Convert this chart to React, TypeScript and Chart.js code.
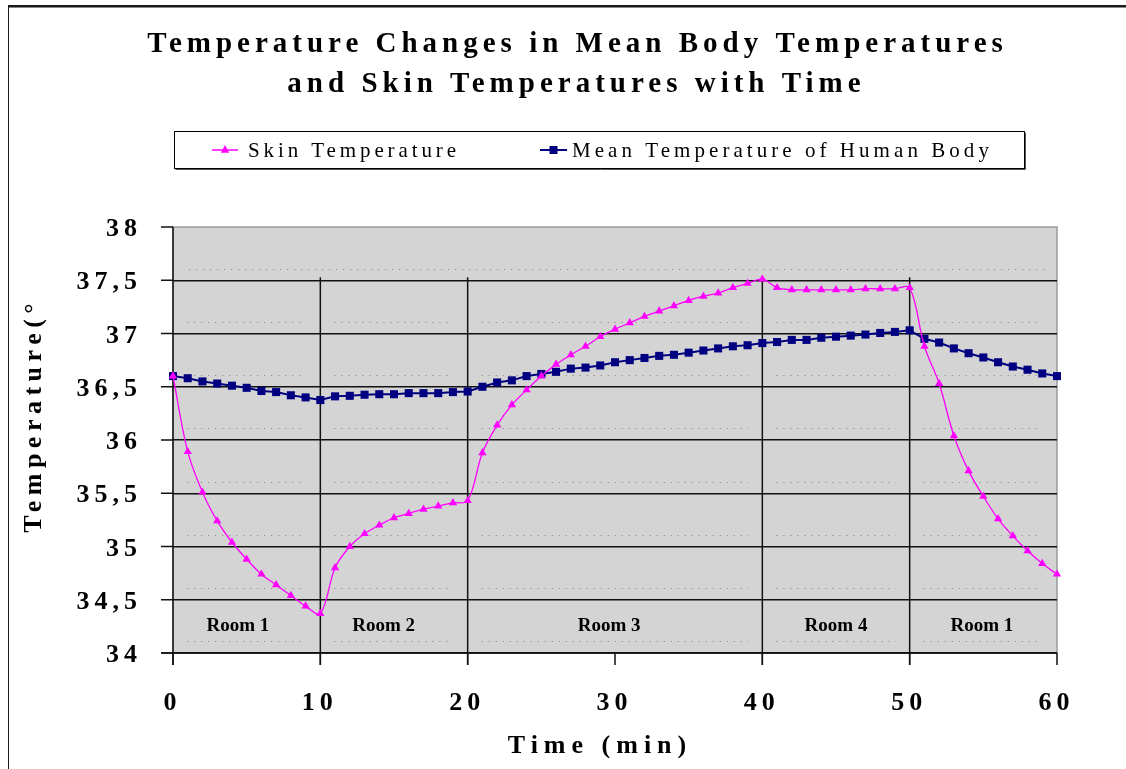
import React, { useEffect, useRef } from "react";
import { Chart, registerables } from "chart.js";

Chart.register(...registerables);

// ---------- data ----------
const titleLines = ["Temperature Changes in Mean Body Temperatures", "and Skin Temperatures with Time"];
const seriesNames = ["Skin Temperature", "Mean Temperature of Human Body"];
const xAxisTitle = "Time (min)";
const yAxisTitle = "Temperature(°";

const minutes = [
  0, 1, 2, 3, 4, 5, 6, 7, 8, 9, 10, 11, 12, 13, 14, 15, 16, 17, 18, 19, 20,
  21, 22, 23, 24, 25, 26, 27, 28, 29, 30, 31, 32, 33, 34, 35, 36, 37, 38, 39, 40,
  41, 42, 43, 44, 45, 46, 47, 48, 49, 50, 51, 52, 53, 54, 55, 56, 57, 58, 59, 60,
];

const skinTemp = [
  36.6, 35.89, 35.51, 35.24, 35.04, 34.88, 34.74, 34.64, 34.54, 34.44, 34.37,
  34.8, 35.0, 35.12, 35.2, 35.27, 35.31, 35.35, 35.38, 35.41, 35.43,
  35.88, 36.14, 36.33, 36.47, 36.6, 36.71, 36.8, 36.88, 36.97, 37.04,
  37.1, 37.16, 37.21, 37.26, 37.31, 37.35, 37.38, 37.43, 37.47, 37.51,
  37.43, 37.41, 37.41, 37.41, 37.41, 37.41, 37.42, 37.42, 37.42, 37.43,
  36.88, 36.53, 36.04, 35.71, 35.47, 35.26, 35.1, 34.96, 34.84, 34.74,
];

const meanTemp = [
  36.6, 36.58, 36.55, 36.53, 36.51, 36.49, 36.46, 36.45, 36.42, 36.4, 36.375,
  36.41, 36.415, 36.425, 36.43, 36.43, 36.44, 36.44, 36.44, 36.45, 36.455,
  36.5, 36.54, 36.56, 36.6, 36.62, 36.64, 36.67, 36.68, 36.7, 36.73,
  36.75, 36.77, 36.79, 36.8, 36.82, 36.84, 36.86, 36.88, 36.89, 36.91,
  36.92, 36.94, 36.94, 36.96, 36.97, 36.98, 36.99, 37.005, 37.015, 37.03,
  36.95, 36.915, 36.86, 36.815, 36.775, 36.73, 36.69, 36.66, 36.625, 36.6,
];

const xTickValues = [0, 10, 20, 30, 40, 50, 60];
const xTickLabels = ["0", "10", "20", "30", "40", "50", "60"];
const yTickValues = [38, 37.5, 37, 36.5, 36, 35.5, 35, 34.5, 34];
const yTickLabels = ["38", "37,5", "37", "36,5", "36", "35,5", "35", "34,5", "34"];

const roomBounds = [0, 10, 20, 40, 50, 60];
const roomLabels = ["Room 1", "Room 2", "Room 3", "Room 4", "Room 1"];
const roomLabelMinutes = [4.4, 14.3, 29.6, 45, 54.9];
const roomDividerTop = 37.5;

// ---------- styling ----------
const FONT = "'Liberation Serif', 'Times New Roman', Times, serif";
const MAGENTA = "#ff00ff";
const NAVY = "#000080";
const PLOT_BG = "#d4d4d4";

function spacedText(
  ctx: CanvasRenderingContext2D,
  text: string,
  x: number,
  y: number,
  align: "left" | "center" | "right",
  ls: number
) {
  ctx.save();
  const c: any = ctx;
  const chars = Array.from(text);
  if ("letterSpacing" in c) c.letterSpacing = "0px";
  const base = ctx.measureText(text).width;
  const w = base + ls * (chars.length - 1);
  const startX = align === "left" ? x : align === "center" ? x - w / 2 : x - w;
  ctx.textAlign = "left";
  if ("letterSpacing" in c) {
    c.letterSpacing = ls + "px";
    ctx.fillText(text, startX, y);
  } else {
    let cx = startX;
    for (const ch of chars) {
      ctx.fillText(ch, cx, y);
      cx += ctx.measureText(ch).width + ls;
    }
  }
  ctx.restore();
}

const decor = {
  id: "decor",
  beforeDraw(chart: any) {
    const { ctx, chartArea: a, scales } = chart;
    const x = scales.x;
    const y = scales.y;
    ctx.save();
    ctx.fillStyle = "#ffffff";
    ctx.fillRect(0, 0, chart.width, chart.height);
    // outer frame (top and left)
    ctx.fillStyle = "#1a1a1a";
    ctx.fillRect(8, 5, chart.width - 8, 2);
    ctx.fillStyle = "#888";
    ctx.fillRect(8, 7, chart.width - 8, 1);
    ctx.fillStyle = "#1a1a1a";
    ctx.fillRect(8, 5, 1, chart.height - 5);
    // plot background
    ctx.fillStyle = PLOT_BG;
    ctx.fillRect(a.left, a.top, a.right - a.left, a.bottom - a.top);
    // faint dotted traces
    ctx.strokeStyle = "#8c8c8c";
    ctx.lineWidth = 1;
    ctx.setLineDash([1.2, 5.8]);
    const bands = yTickValues.filter((v) => v < 38);
    for (const v of bands) {
      const py = Math.round(y.getPixelForValue(v + 0.11)) + 0.5;
      if (v === roomDividerTop) {
        ctx.beginPath();
        ctx.moveTo(x.getPixelForValue(roomBounds[0]) + 16, py);
        ctx.lineTo(x.getPixelForValue(roomBounds[roomBounds.length - 1]) - 12, py);
        ctx.stroke();
        continue;
      }
      for (let i = 0; i < roomBounds.length - 1; i++) {
        ctx.beginPath();
        ctx.moveTo(x.getPixelForValue(roomBounds[i]) + 14, py);
        ctx.lineTo(x.getPixelForValue(roomBounds[i + 1]) - 14, py);
        ctx.stroke();
      }
    }
    ctx.setLineDash([]);
    // gray plot border
    ctx.strokeStyle = "#9a9a9a";
    ctx.lineWidth = 1.5;
    ctx.strokeRect(a.left, a.top, a.right - a.left, a.bottom - a.top);
    ctx.restore();
  },
  beforeDatasetsDraw(chart: any) {
    const { ctx, chartArea: a, scales } = chart;
    const x = scales.x;
    const y = scales.y;
    ctx.save();
    ctx.strokeStyle = "#111";
    ctx.lineWidth = 1.5;
    // left axis
    ctx.beginPath();
    ctx.moveTo(a.left, a.top);
    ctx.lineTo(a.left, a.bottom + 12);
    ctx.stroke();
    // y tick marks
    for (const v of yTickValues) {
      const py = y.getPixelForValue(v);
      ctx.beginPath();
      ctx.moveTo(a.left - 12, py);
      ctx.lineTo(a.left, py);
      ctx.stroke();
    }
    // x tick marks
    for (const v of xTickValues) {
      const px = x.getPixelForValue(v);
      ctx.beginPath();
      ctx.moveTo(px, a.bottom);
      ctx.lineTo(px, a.bottom + 12);
      ctx.stroke();
    }
    // room dividers
    const topPx = y.getPixelForValue(roomDividerTop) - 3;
    for (const b of roomBounds.slice(1, -1)) {
      const px = x.getPixelForValue(b);
      ctx.beginPath();
      ctx.moveTo(px, topPx);
      ctx.lineTo(px, a.bottom + 12);
      ctx.stroke();
    }
    // bottom axis
    ctx.beginPath();
    ctx.moveTo(a.left - 12, a.bottom);
    ctx.lineTo(a.right, a.bottom);
    ctx.stroke();
    ctx.restore();
  },
  afterDraw(chart: any) {
    const { ctx, scales } = chart;
    const x = scales.x;
    const y = scales.y;
    ctx.save();
    ctx.fillStyle = "#000";
    ctx.textBaseline = "alphabetic";

    // title
    ctx.font = `bold 29px ${FONT}`;
    spacedText(ctx, titleLines[0], 575, 52, "center", 5);
    spacedText(ctx, titleLines[1], 574, 92, "center", 5);

    // legend box
    const lx = 174.5, ly = 131.5, lw = 850, lh = 37;
    ctx.fillStyle = "#fff";
    ctx.fillRect(lx, ly, lw, lh);
    ctx.strokeStyle = "#000";
    ctx.lineWidth = 1;
    ctx.strokeRect(lx, ly, lw, lh);
    ctx.strokeStyle = "#555";
    ctx.beginPath();
    ctx.moveTo(lx + 1, ly + lh + 1);
    ctx.lineTo(lx + lw + 1, ly + lh + 1);
    ctx.lineTo(lx + lw + 1, ly + 1);
    ctx.stroke();
    const cy = 150;
    // skin marker
    ctx.strokeStyle = MAGENTA;
    ctx.lineWidth = 1.5;
    ctx.beginPath();
    ctx.moveTo(212, cy);
    ctx.lineTo(238, cy);
    ctx.stroke();
    ctx.fillStyle = MAGENTA;
    ctx.beginPath();
    ctx.moveTo(225, cy - 5);
    ctx.lineTo(229.2, cy + 2.8);
    ctx.lineTo(220.8, cy + 2.8);
    ctx.closePath();
    ctx.fill();
    // mean marker
    ctx.strokeStyle = NAVY;
    ctx.lineWidth = 2;
    ctx.beginPath();
    ctx.moveTo(540, cy);
    ctx.lineTo(567, cy);
    ctx.stroke();
    ctx.fillStyle = NAVY;
    ctx.fillRect(549.5, cy - 4, 8, 8);
    ctx.fillStyle = "#000";
    ctx.font = `21px ${FONT}`;
    spacedText(ctx, seriesNames[0], 248, 157, "left", 3.9);
    spacedText(ctx, seriesNames[1], 572, 157, "left", 4.05);

    // y tick labels
    ctx.font = `bold 26px ${FONT}`;
    yTickValues.forEach((v, i) => {
      spacedText(ctx, yTickLabels[i], 137, y.getPixelForValue(v) + 9, "right", 5);
    });
    // x tick labels
    xTickValues.forEach((v, i) => {
      spacedText(ctx, xTickLabels[i], x.getPixelForValue(v) - 3, 710, "center", 5);
    });

    // axis titles
    ctx.font = `bold 26px ${FONT}`;
    spacedText(ctx, xAxisTitle, 597, 753, "center", 6);
    ctx.save();
    ctx.translate(41, 418);
    ctx.rotate(-Math.PI / 2);
    ctx.font = `bold 26px ${FONT}`;
    spacedText(ctx, yAxisTitle, 0, 0, "center", 5.5);
    ctx.restore();

    // room labels
    ctx.font = `bold 19px ${FONT}`;
    roomLabels.forEach((t, i) => {
      spacedText(ctx, t, x.getPixelForValue(roomLabelMinutes[i]), 631, "center", 0);
    });
    ctx.restore();
  },
};

export default function App() {
  const ref = useRef<HTMLCanvasElement | null>(null);
  useEffect(() => {
    if (!ref.current) return;
    const chart = new Chart(ref.current, {
      type: "line",
      data: {
        datasets: [
          {
            label: seriesNames[0],
            data: minutes.map((m, i) => ({ x: m, y: skinTemp[i] })),
            borderColor: MAGENTA,
            backgroundColor: MAGENTA,
            borderWidth: 1.3,
            tension: 0.35,
            pointStyle: "triangle",
            pointRadius: 4.8,
            pointBorderWidth: 0,
            pointBackgroundColor: MAGENTA,
            pointBorderColor: MAGENTA,
            clip: false,
          } as any,
          {
            label: seriesNames[1],
            data: minutes.map((m, i) => ({ x: m, y: meanTemp[i] })),
            borderColor: NAVY,
            backgroundColor: NAVY,
            borderWidth: 2,
            tension: 0,
            pointStyle: "rect",
            pointRadius: 5.7,
            pointBorderWidth: 0,
            pointBackgroundColor: NAVY,
            pointBorderColor: NAVY,
            clip: false,
          } as any,
        ],
      },
      options: {
        animation: false,
        responsive: false,
        devicePixelRatio: 1,
        layout: { padding: { left: 173, right: 69, top: 227, bottom: 116 } },
        plugins: {
          legend: { display: false },
          title: { display: false },
          tooltip: { enabled: false },
        },
        scales: {
          x: {
            type: "linear",
            min: 0,
            max: 60,
            ticks: { display: false, stepSize: 10 },
            grid: { display: false, drawTicks: false },
            border: { display: false },
            afterFit: (s: any) => {
              s.height = 0;
            },
          },
          y: {
            type: "linear",
            min: 34,
            max: 38,
            ticks: { display: false, stepSize: 0.5 },
            grid: {
              drawTicks: false,
              color: (c: any) => (c.tick && c.tick.value >= 38 ? "rgba(0,0,0,0)" : "#111"),
              lineWidth: 1.5,
            },
            border: { display: false },
            afterFit: (s: any) => {
              s.width = 0;
            },
          },
        },
      } as any,
      plugins: [decor],
    });
    return () => chart.destroy();
  }, []);
  return (
    <div style={{ position: "fixed", left: 0, top: 0, width: 1126, height: 769 }}>
      <canvas ref={ref} width={1126} height={769} style={{ width: 1126, height: 769, display: "block" }} />
    </div>
  );
}
